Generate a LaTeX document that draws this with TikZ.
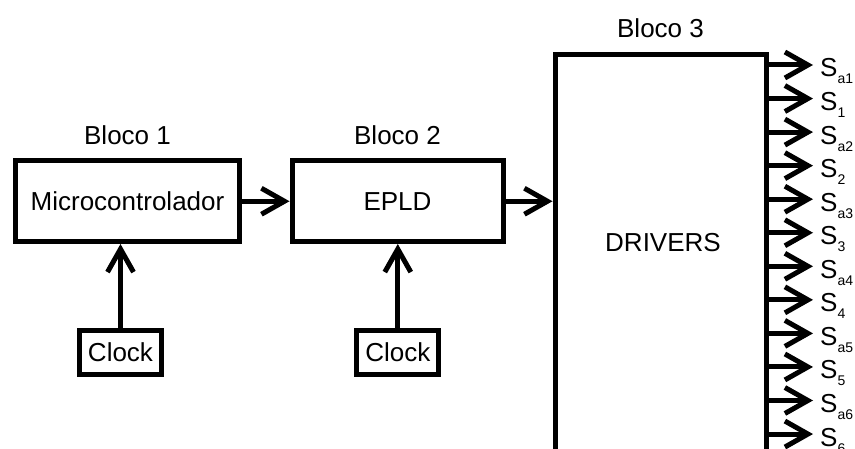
\documentclass[tikz,border=0pt]{standalone}
\usepackage{fontspec}
\setmainfont{Liberation Sans}
\usepackage{tikz}
\usetikzlibrary{arrows.meta,positioning,calc}
\newcommand{\outlbl}[1]{S\raisebox{-7pt}{\fontsize{14}{14}\selectfont #1}}

\begin{document}
\begin{tikzpicture}[
      x=1pt,y=1pt,
      font=\fontsize{26}{30}\selectfont,
      blk/.style={draw,line width=5pt,inner sep=0pt,align=center},
      ttl/.style={inner sep=0pt},
      arr/.style={line width=5pt,-{Straight Barb[length=23pt,width=26pt]}}
    ]
    \useasboundingbox (0,0) rectangle (855,448);
    \clip (0,0) rectangle (855,448);
    \node[blk,minimum width=224pt,minimum height=80.5pt] (mc) at (127.5,246.75) {Microcontrolador};
    \node[blk,minimum width=211pt,minimum height=80.5pt] (ep) at (397.5,246.75) {EPLD};
    \node[blk,minimum width=211pt,minimum height=420pt,anchor=north] (drv) at (660.5,396) {};
    \node[ttl] (drvtxt) at (663,205) {DRIVERS};

    \node[ttl,above=14pt of mc] (b1) {Bloco 1};
    \node[ttl,above=14pt of ep] (b2) {Bloco 2};
    \node[ttl,above=14pt of drv] (b3) {Bloco 3};

    \node[blk,minimum width=82pt,minimum height=43.5pt] (clk1) at (120.5,95.3) {Clock};
    \node[blk,minimum width=82pt,minimum height=43.5pt] (clk2) at (397.8,95.3) {Clock};

    \draw[arr] (mc.east) -- (ep.west);
    \draw[arr] (ep.east) -- (drv.west |- ep.east);
    \draw[arr] (clk1.north) -- (clk1.north |- mc.south);
    \draw[arr] (clk2.north) -- (clk2.north |- ep.south);

    % saidas dos drivers
    \foreach \s [count=\i] in {a1,1,a2,2,a3,3,a4,4,a5,5,a6,6} {
      \coordinate (o\i) at (813,{383-(\i-1)*33.55});
      \draw[arr] (drv.east |- o\i) -- (o\i);
      \node[ttl,anchor=base west,xshift=7pt,yshift=-12pt] (s\i) at (o\i) {\outlbl{\s}};
    }
  \end{tikzpicture}
\end{document}
